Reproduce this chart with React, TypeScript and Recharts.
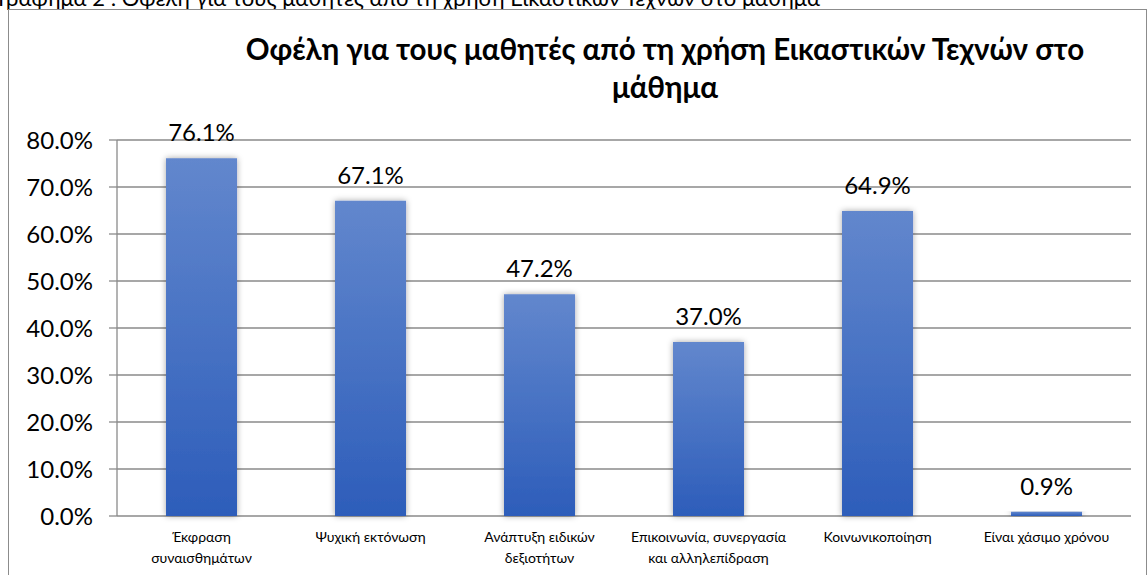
import { Bar, BarChart, CartesianGrid, LabelList, XAxis, YAxis } from "recharts";

const categories = [
  "Έκφραση\nσυναισθημάτων",
  "Ψυχική εκτόνωση",
  "Ανάπτυξη ειδικών\nδεξιοτήτων",
  "Επικοινωνία, συνεργασία\nκαι αλληλεπίδραση",
  "Κοινωνικοποίηση",
  "Είναι χάσιμο χρόνου",
];
const shares = [0.761, 0.671, 0.472, 0.37, 0.649, 0.009];
const yTicks = [0, 0.1, 0.2, 0.3, 0.4, 0.5, 0.6, 0.7, 0.8];
const boundaryTicks = [0, 1, 2, 3, 4, 5, 6];

const title = ["Οφέλη για τους μαθητές από τη χρήση Εικαστικών Τεχνών στο", "μάθημα"];
const caption = "Γράφημα 2 : Οφέλη για τους μαθητές από τη χρήση Εικαστικών Τεχνών στο μάθημα";

const data = categories.map((name, i) => ({ name, value: shares[i], slot: i + 0.5 }));

const FONT = "Lato, 'Noto Sans', sans-serif";
const pct = (v: number) => `${(v * 100).toFixed(1)}%`;

function CategoryTick(props: any) {
  const { x, y, payload } = props;
  const lines = String(payload.value).split("\n");
  return (
    <g transform={`translate(${x},${y})`}>
      {lines.map((line, i) => (
        <text key={i} x={0} y={i * 21} dy={18} textAnchor="middle" fontSize={14} fill="#000" fontFamily={FONT}>
          {line}
        </text>
      ))}
    </g>
  );
}

export default function App() {
  return (
    <div style={{ position: "absolute", left: 0, top: 0, width: 1148, height: 575, overflow: "hidden", background: "#fff" }}>
      <div
        style={{ position: "absolute", left: -2, top: -13, fontFamily: FONT, fontSize: 22, lineHeight: "22px", whiteSpace: "nowrap", color: "#000" }}
      >
        {caption}
      </div>
      <div style={{ position: "absolute", left: 8, top: 9, width: 1137, height: 600, border: "1px solid #8c8c8c" }} />
      <div
        style={{
          position: "absolute",
          left: 0,
          width: 1330,
          top: 30,
          textAlign: "center",
          fontFamily: FONT,
          fontWeight: 700,
          fontSize: 29.5,
          lineHeight: "38px",
          color: "#000",
        }}
      >
        {title[0]}
        <br />
        {title[1]}
      </div>
      <div style={{ position: "absolute", left: 0, top: 0 }}>
        <BarChart width={1148} height={575} data={data} margin={{ top: 140, right: 17, bottom: 9, left: 0 }} barCategoryGap="29%">
          <defs>
            <linearGradient id="barFill" x1="0" y1="0" x2="0" y2="1">
              <stop offset="0%" stopColor="#6287cd" />
              <stop offset="100%" stopColor="#2d5dba" />
            </linearGradient>
            <filter id="barShadow" x="-30%" y="-10%" width="160%" height="120%">
              <feDropShadow dx="0" dy="0" stdDeviation="3" floodColor="#000" floodOpacity="0.35" />
            </filter>
          </defs>
          <CartesianGrid vertical={false} stroke="#8a8a8a" strokeWidth={1.3} />
          <XAxis
            xAxisId="edge"
            type="number"
            dataKey="slot"
            domain={[0, 6]}
            ticks={boundaryTicks}
            allowDataOverflow
            height={0}
            tick={false}
            tickSize={6}
            stroke="#8a8a8a"
            strokeWidth={1.3}
          />
          <XAxis dataKey="name" interval={0} height={50} tick={<CategoryTick />} tickLine={false} axisLine={false} />
          <YAxis
            domain={[0, 0.8]}
            ticks={yTicks}
            tickFormatter={pct}
            width={117}
            tickSize={8}
            tickMargin={16}
            stroke="#8a8a8a"
            strokeWidth={1.3}
            tick={{ fill: "#000", fontSize: 24, fontFamily: FONT }}
          />
          <Bar dataKey="value" fill="url(#barFill)" filter="url(#barShadow)" isAnimationActive={false}>
            <LabelList
              dataKey="value"
              position="top"
              offset={17}
              formatter={(v: any) => pct(Number(v))}
              style={{ fill: "#000", fontSize: 24, fontFamily: FONT }}
            />
          </Bar>
        </BarChart>
      </div>
    </div>
  );
}
